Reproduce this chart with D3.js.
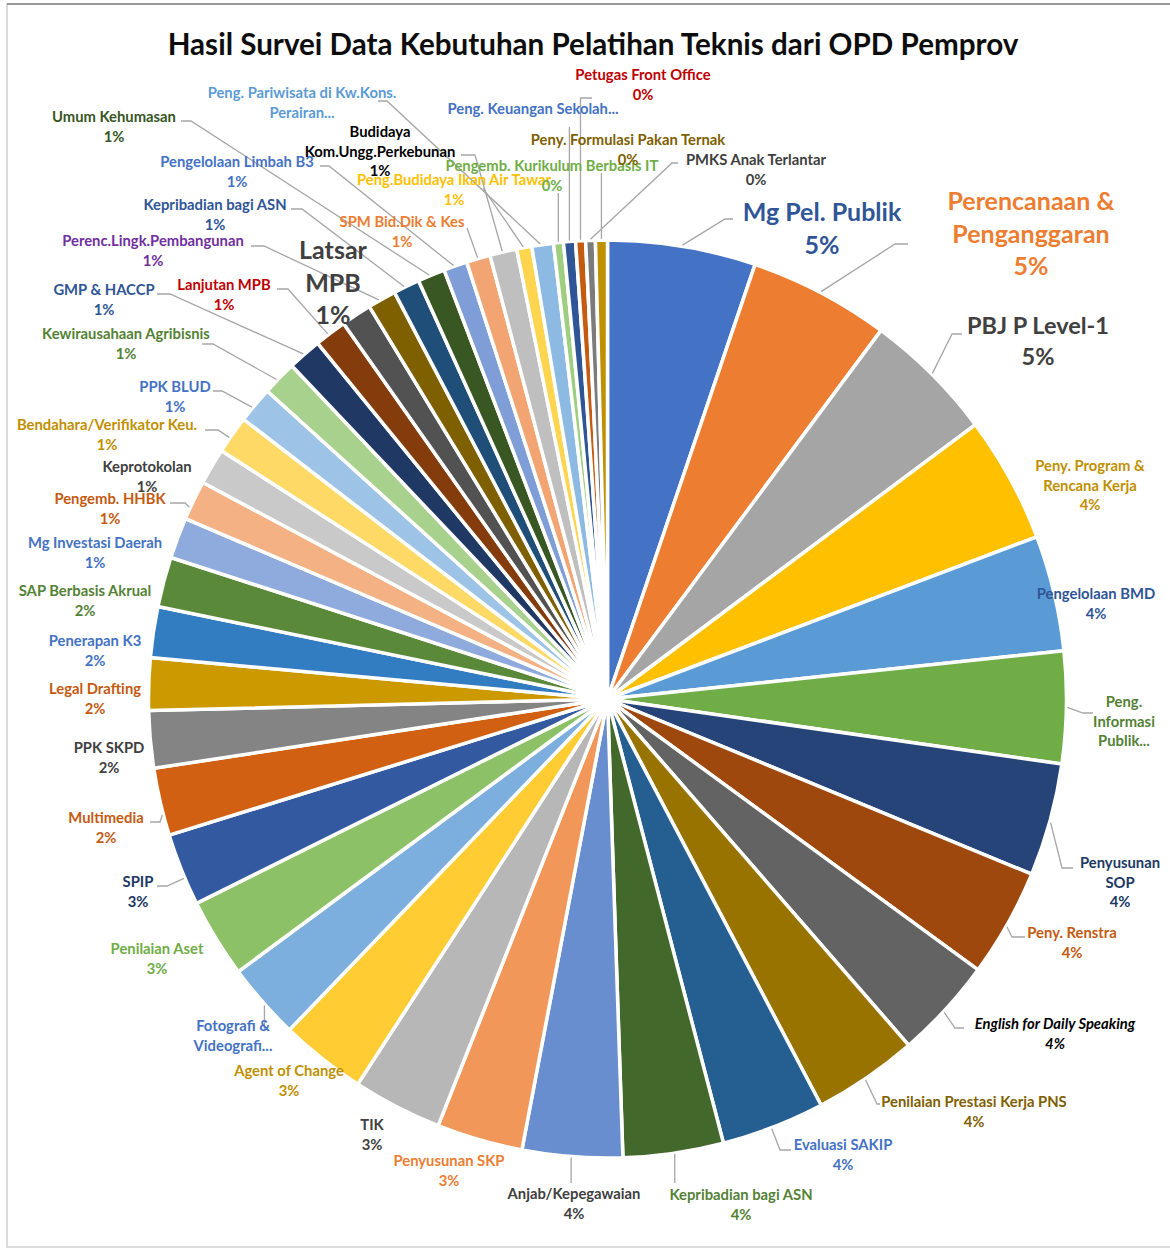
<!DOCTYPE html>
<html>
<head>
<meta charset="utf-8">
<script src="https://cdn.jsdelivr.net/npm/d3@7"></script>
<style>
body { margin: 0; background: #fff; }
text { font-family: Lato, "Open Sans", sans-serif; font-weight: 700; }
</style>
</head>
<body>
<div id="chart"></div>
<script>
var title = "Hasil Survei Data Kebutuhan Pelatihan Teknis dari OPD Pemprov";

var categories = [
  "Mg Pel. Publik", "Perencanaan & Penganggaran", "PBJ P Level-1", "Peny. Program & Rencana Kerja",
  "Pengelolaan BMD", "Peng. Informasi Publik...", "Penyusunan SOP", "Peny. Renstra",
  "English for Daily Speaking", "Penilaian Prestasi Kerja PNS", "Evaluasi SAKIP", "Kepribadian bagi ASN",
  "Anjab/Kepegawaian", "Penyusunan SKP", "TIK", "Agent of Change", "Fotografi & Videografi...",
  "Penilaian Aset", "SPIP", "Multimedia", "PPK SKPD", "Legal Drafting", "Penerapan K3",
  "SAP Berbasis Akrual", "Mg Investasi Daerah", "Pengemb. HHBK", "Keprotokolan",
  "Bendahara/Verifikator Keu.", "PPK BLUD", "Kewirausahaan Agribisnis", "GMP & HACCP",
  "Lanjutan MPB", "Latsar MPB", "Perenc.Lingk.Pembangunan", "Kepribadian bagi ASN",
  "Umum Kehumasan", "Pengelolaan Limbah B3", "SPM Bid.Dik & Kes", "Budidaya Kom.Ungg.Perkebunan",
  "Peng.Budidaya Ikan Air Tawar", "Peng. Pariwisata di Kw.Kons. Perairan...",
  "Pengemb. Kurikulum Berbasis IT", "Peng. Keuangan Sekolah...", "Petugas Front Office",
  "PMKS Anak Terlantar", "Peny. Formulasi Pakan Ternak"
];

// share of answers (%)
var values = [5.21, 4.95, 4.64, 4.45, 4.07, 3.94, 3.97, 3.81, 3.56, 3.69, 3.64, 3.53, 3.52, 3.03,
  3.14, 3.03, 2.69, 2.78, 2.55, 2.38, 2.01, 1.84, 1.79, 1.76, 1.44, 1.39, 1.28, 1.33, 1.28, 1.22, 1.19,
  1.13, 1.07, 1.0, 0.93, 0.96, 0.83, 0.84, 0.95, 0.53, 0.76, 0.35, 0.42, 0.35, 0.34, 0.42];

// label text as shown, split in lines (percent added from values)
var labelLines = [
  ["Mg Pel. Publik"], ["Perencanaan &", "Penganggaran"], ["PBJ P Level-1"], ["Peny. Program &", "Rencana Kerja"],
  ["Pengelolaan BMD"], ["Peng.", "Informasi", "Publik..."], ["Penyusunan", "SOP"], ["Peny. Renstra"],
  ["English for Daily Speaking"], ["Penilaian Prestasi Kerja PNS"], ["Evaluasi SAKIP"], ["Kepribadian bagi ASN"],
  ["Anjab/Kepegawaian"], ["Penyusunan SKP"], ["TIK"], ["Agent of Change"], ["Fotografi &", "Videografi..."],
  ["Penilaian Aset"], ["SPIP"], ["Multimedia"], ["PPK SKPD"], ["Legal Drafting"], ["Penerapan K3"],
  ["SAP Berbasis Akrual"], ["Mg Investasi Daerah"], ["Pengemb. HHBK"], ["Keprotokolan"],
  ["Bendahara/Verifikator Keu."], ["PPK BLUD"], ["Kewirausahaan Agribisnis"], ["GMP & HACCP"],
  ["Lanjutan MPB"], ["Latsar", "MPB"], ["Perenc.Lingk.Pembangunan"], ["Kepribadian bagi ASN"],
  ["Umum Kehumasan"], ["Pengelolaan Limbah B3"], ["SPM Bid.Dik & Kes"], ["Budidaya", "Kom.Ungg.Perkebunan"],
  ["Peng.Budidaya Ikan Air Tawar"], ["Peng. Pariwisata di Kw.Kons.", "Perairan..."],
  ["Pengemb. Kurikulum Berbasis IT"], ["Peng. Keuangan Sekolah..."], ["Petugas Front Office"],
  ["PMKS Anak Terlantar"], ["Peny. Formulasi Pakan Ternak"]
];
var hidePct = [5, 16, 40, 42];

var sliceColors = [
  "#4472C4", "#ED7D31", "#A5A5A5", "#FFC000", "#5B9BD5", "#70AD47",
  "#264478", "#9E480E", "#636363", "#997300", "#255E91", "#43682B",
  "#698ED0", "#F1975A", "#B7B7B7", "#FFCD33", "#7CAFDD", "#8CC168",
  "#335AA1", "#D26012", "#848484", "#CC9A00", "#327DC2", "#5A8A39",
  "#8FAADC", "#F4B183", "#C9C9C9", "#FFD966", "#9DC3E6", "#A9D18E",
  "#203864", "#843C0C", "#525252", "#7F6000", "#1F4E79", "#385723",
  "#7F9ED8", "#F2A572", "#BFBFBF", "#FFD44F", "#8DBAE3", "#A0CE80",
  "#2F5597", "#C55A11", "#7B7B7B", "#BF9000"
];

var labelColors = [
  "#2F5597", "#ED7D31", "#404040", "#BF9000", "#2F5597", "#548235", "#203864", "#C55A11",
  "#000000", "#7F6000", "#4472C4", "#548235", "#404040", "#ED7D31", "#404040", "#BF9000",
  "#4472C4", "#70AD47", "#203864", "#C55A11", "#404040", "#C55A11", "#4472C4", "#548235",
  "#4472C4", "#C55A11", "#404040", "#BF9000", "#4472C4", "#548235", "#2F5597", "#C00000",
  "#404040", "#7030A0", "#2F5597", "#375623", "#4472C4", "#ED7D31", "#000000", "#FFC000",
  "#5B9BD5", "#70AD47", "#4472C4", "#C00000", "#404040", "#7F6000"
];

// label placement: [centre x, centre y of first line, font size]
var labelPos = [
  [822, 212, 25], [1031, 201, 25], [1038, 326, 23.5], [1090, 466, 14.8], [1096, 594, 14.8], [1124, 702, 14.8],
  [1120, 863, 14.8], [1072, 933, 14.8], [1055, 1024, 14.8], [974, 1102, 14.8], [843, 1145, 14.8], [741, 1195, 14.8],
  [574, 1194, 14.8], [449, 1161, 14.8], [372, 1125, 14.8], [289, 1071, 14.8], [233, 1026, 14.8], [157, 949, 14.8],
  [138, 882, 14.8], [106, 818, 14.8], [109, 748, 14.8], [95, 689, 14.8], [95, 641, 14.8], [85, 591, 14.8],
  [95, 543, 14.8], [110, 499, 14.8], [147, 467, 14.8], [107, 425, 14.8], [175, 387, 14.8], [126, 334, 14.8],
  [104, 290, 14.8], [224, 285, 14.8], [333, 250, 25], [153, 241, 14.8], [215, 205, 14.8], [114, 117, 14.8],
  [237, 162, 14.8], [402, 222, 14.8], [380, 132, 14.8], [454, 180, 14.8], [302, 93, 14.8], [552, 166, 14.8],
  [533, 109, 14.8], [643, 75, 14.8], [756, 160, 14.8], [628, 140, 14.8]
];

// leader lines: f = where on the slice rim it starts, p = bend points, v = vertical up/down to y, h = end x
var leaders = [
  {f: .5, p: [[725, 219], [733, 219]]}, {f: .5, p: [[895, 244], [908, 244]]}, {f: .5, p: [[952, 334], [962, 334]]},
  null, null, {f: .5, p: [[1083, 713], [1093, 713]]}, {f: .52, p: [[1062, 868], [1073, 868]]},
  {f: .53, p: [[1012, 937], [1025, 937]]}, {f: .53, p: [[955, 1028], [964, 1028]]},
  {f: .52, p: [[877, 1104], [880, 1104]]}, {f: .52, p: [[780, 1150], [791, 1150]]},
  {f: .49, v: 1183}, {f: .51, v: 1183}, null, null, null, {f: .45, v: 1030}, null,
  {f: .38, p: [[167, 886], [157, 886]]}, {f: .31, p: [[160, 822], [150, 822]]}, null, null, null, null, null,
  {f: .3, p: [[185, 503], [170, 503]]}, null, {f: .4, p: [[218, 430], [205, 430]]},
  {f: .4, p: [[222, 391], [213, 391]]}, {f: .42, p: [[213, 344], [202, 344]]},
  {f: .48, p: [[170, 294], [157, 294]]}, {f: .42, p: [[288, 289], [277, 289]]}, null,
  {f: .4, p: [[264, 246], [251, 246]]}, {f: .42, p: [[302, 209], [291, 209]]},
  {f: .43, p: [[191, 121], [181, 121]]}, {f: .43, p: [[329, 166], [320, 166]]},
  {f: .48, p: [[467, 228]]}, {f: .47, p: [[475, 155], [461, 155]]}, {f: .45, p: [[483, 188]]},
  {f: .4, p: [[387, 101], [378, 101]]}, {f: .5, v: 193}, {f: .5, v: 127}, {f: .5, v: 98, h: 592},
  {f: .5, p: [[672, 163], [678, 163]]}, {f: .5, v: 173}
];

var width = 1170, height = 1250,
    cx = 607.5, cy = 699, radius = 459;

var svg = d3.select("#chart").append("svg")
    .attr("width", width)
    .attr("height", height);

// frame
svg.append("rect")
    .attr("x", 7).attr("y", 4)
    .attr("width", width + 10).attr("height", height - 7)
    .attr("fill", "none").attr("stroke", "#d0d0d0").attr("stroke-width", 1.5);
svg.append("line")
    .attr("x1", 7).attr("x2", width).attr("y1", 4).attr("y2", 4)
    .attr("stroke", "#808080").attr("stroke-width", 1.5);

svg.append("text")
    .attr("x", 593).attr("y", 55)
    .attr("text-anchor", "middle")
    .style("font-size", "29.6px")
    .attr("fill", "#0d0d0d")
    .text(title);

var total = d3.sum(values);
var data = values.map((v, i) => ({ name: categories[i], value: v }));

var pie = d3.pie().sort(null).value(d => d.value);
var arcs = pie(data);
var arc = d3.arc().innerRadius(0).outerRadius(radius);

var g = svg.append("g").attr("transform", `translate(${cx},${cy})`);

g.selectAll("path.slice")
    .data(arcs)
    .enter().append("path")
    .attr("class", "slice")
    .attr("d", arc)
    .attr("fill", d => sliceColors[d.index])
    .attr("stroke", "#fff")
    .attr("stroke-width", 3.5)
    .attr("stroke-linejoin", "round");

// leader lines
function rimPoint(d, f) {
    var a = d.startAngle + f * (d.endAngle - d.startAngle);
    return [cx + (radius + 1) * Math.sin(a), cy - (radius + 1) * Math.cos(a)];
}

var line = d3.line();
arcs.forEach(d => {
    var ld = leaders[d.index];
    if (!ld) return;
    var s = rimPoint(d, ld.f);
    var pts = [s];
    if (ld.v !== undefined) {
        pts.push([s[0], ld.v]);
        if (ld.h !== undefined) pts.push([ld.h, ld.v]);
    } else {
        pts = pts.concat(ld.p);
    }
    svg.append("path")
        .attr("d", line(pts))
        .attr("fill", "none")
        .attr("stroke", "#a6a6a6")
        .attr("stroke-width", 1.3);
});

// labels
var fmt = v => Math.round(v / total * 100) + "%";
arcs.forEach(d => {
    var i = d.index;
    var pos = labelPos[i];
    var size = pos[2];
    var lh = size > 16 ? size * 1.3 : 19.5;
    var lines = labelLines[i].slice();
    if (hidePct.indexOf(i) < 0) lines.push(fmt(d.value));
    var t = svg.append("text")
        .attr("text-anchor", "middle")
        .attr("fill", labelColors[i])
        .style("font-size", size + "px")
        .style("font-style", i === 8 ? "italic" : "normal");
    lines.forEach((s, k) => {
        t.append("tspan")
            .attr("x", pos[0])
            .attr("y", pos[1] + k * lh + size * 0.36)
            .text(s);
    });
});
</script>
</body>
</html>
